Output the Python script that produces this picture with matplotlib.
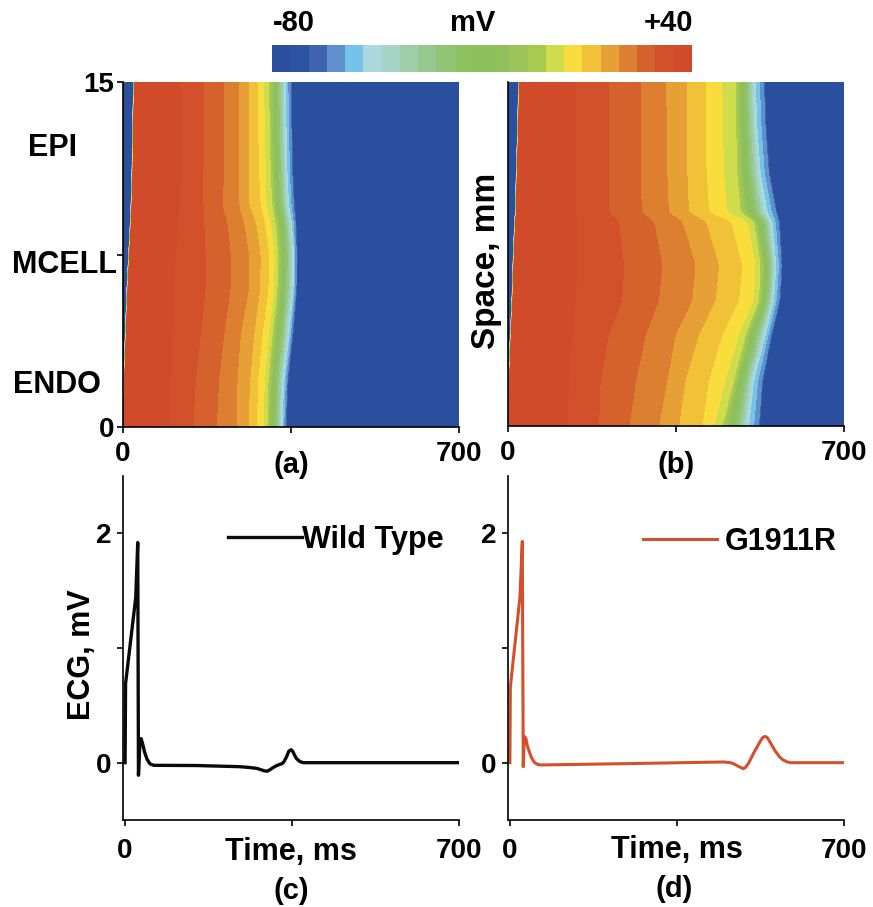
import numpy as np
import matplotlib
matplotlib.use("Agg")
import matplotlib.pyplot as plt
from matplotlib.colors import ListedColormap, BoundaryNorm
from matplotlib.cm import ScalarMappable

plt.rcParams['font.family'] = ['Liberation Sans', 'DejaVu Sans']
plt.rcParams['font.weight'] = 'bold'

# ---------------------------------------------------------------------------
# Colour scale: 23 equal voltage bands between -80 and +40 mV
V_MIN, V_MAX = -80.0, 40.0
band_colors = [
    '#2a4f9f', '#2c52a2', '#3f63ae', '#5f90cb', '#75c3e8', '#acd9de',
    '#a6d4c6', '#9ecea8', '#95c88f', '#90c373', '#8ec160', '#8dc05b',
    '#8fc05b', '#9bc45a', '#a8ca4f', '#cfdd4c', '#f8dd3c', '#f1c237',
    '#e6a035', '#dc7f30', '#d5612c', '#d2502a', '#d14a29',
]
edges = np.linspace(V_MIN, V_MAX, len(band_colors) + 1)
V_REST = -78.0

# Isochrone tables (ms). Columns: activation time, then the times at which
# the membrane potential falls through the band edges
# 22, 21, 20, 19, 18, 17, 16, 15, 5 and 3 of the colour scale.
iso_edge_index = [22, 21, 20, 19, 18, 17, 16, 15, 5, 3]

wt_space = [0.0, 2.0, 4.0, 6.0, 7.5, 9.0, 9.5, 11.0, 13.0, 15.0]
wt_isochrones = [
    [1.3, 98.4, 145.6, 194.2, 235.8, 260.1, 277.4, 291.3, 299.6, 330.8, 337.8],
    [4.8, 99.8, 150.5, 199.0, 237.2, 263.5, 280.2, 294.1, 301.7, 334.3, 341.2],
    [8.3, 101.9, 160.9, 209.4, 244.1, 271.9, 289.2, 303.1, 310.0, 344.7, 351.6],
    [11.7, 105.4, 171.3, 223.3, 261.5, 284.3, 301.7, 313.5, 320.5, 353.7, 360.0],
    [15.3, 108.8, 171.3, 223.3, 261.5, 285.7, 303.1, 314.9, 321.8, 355.1, 360.7],
    [19.0, 115.0, 168.0, 216.0, 250.0, 275.0, 293.0, 306.0, 316.0, 350.0, 358.0],
    [20.0, 117.9, 166.4, 205.9, 240.7, 261.5, 285.7, 298.3, 310.0, 344.7, 355.1],
    [22.2, 119.2, 166.4, 209.4, 240.7, 261.5, 282.3, 296.2, 306.6, 341.2, 351.6],
    [23.5, 119.2, 167.8, 209.4, 240.7, 261.5, 280.2, 294.1, 304.5, 339.1, 349.6],
    [25.6, 119.2, 167.8, 209.4, 240.7, 261.5, 278.8, 292.7, 303.1, 337.8, 348.2],
]

mut_space = [0.0, 2.0, 4.0, 5.5, 7.0, 8.95, 9.25, 11.0, 13.0, 15.0]
mut_isochrones = [
    [1.3, 122.7, 188.6, 251.1, 313.5, 355.1, 403.7, 427.9, 445.3, 500.8, 521.7],
    [4.8, 126.2, 192.1, 266.3, 330.8, 368.5, 417.6, 452.2, 469.6, 511.2, 528.6],
    [8.3, 133.1, 209.4, 285.7, 348.2, 396.7, 445.3, 480.0, 493.9, 535.5, 547.3],
    [11.7, 140.1, 237.2, 313.5, 382.8, 431.4, 480.0, 511.2, 521.7, 552.8, 564.6],
    [13.8, 143.5, 240.7, 320.5, 389.8, 438.4, 486.9, 514.7, 525.1, 557.7, 568.8],
    [17.3, 143.5, 230.3, 303.1, 362.0, 410.6, 462.7, 497.3, 511.2, 549.4, 563.3],
    [18.7, 140.1, 209.4, 278.0, 334.0, 376.0, 418.0, 456.0, 484.0, 540.0, 558.0],
    [20.7, 140.1, 209.4, 275.3, 330.8, 372.5, 412.7, 448.8, 476.5, 525.1, 542.4],
    [23.5, 140.1, 209.4, 275.3, 329.4, 372.5, 410.6, 446.7, 474.4, 518.2, 535.5],
    [25.6, 140.1, 209.4, 275.3, 328.7, 372.5, 410.6, 445.3, 473.1, 514.7, 532.0],
]

# Pseudo-ECG traces (ms, mV)
ecg_wt_t = [0, 1, 22.3, 26.5, 28, 31, 33.5, 37, 41, 46, 52, 60, 150, 240, 260,
            276, 285, 292, 298, 304, 311, 318, 324, 329, 333, 338, 343, 347.6,
            351, 355, 359, 366, 373, 700]
ecg_wt_v = [0, 0.69, 1.44, 1.92, -0.11, 0.17, 0.21, 0.16, 0.09, 0.03, -0.01,
            -0.023, -0.025, -0.035, -0.042, -0.05, -0.062, -0.072, -0.074,
            -0.06, -0.04, -0.025, -0.015, -0.008, 0.01, 0.05, 0.1, 0.113, 0.1,
            0.065, 0.035, 0.01, 0.0, 0.0]

ecg_mut_t = [0, 1, 21, 26, 28, 30, 31.4, 33.5, 37, 42, 47, 52, 58, 65, 237,
             447, 462, 470, 480, 489, 494, 500, 510, 525, 530, 534.5, 539, 545,
             555, 565, 572, 580, 587, 700]
ecg_mut_v = [0, 0.66, 1.44, 1.93, -0.035, 0.2, 0.226, 0.21, 0.14, 0.08, 0.03,
             0.0, -0.015, -0.02, -0.009, 0.006, 0.0, -0.012, -0.035, -0.052,
             -0.04, -0.005, 0.078, 0.19, 0.22, 0.229, 0.22, 0.18, 0.107, 0.05,
             0.025, 0.008, 0.0, 0.0]

ECG_BLACK = '#0a0a0a'
ECG_RED = '#d64f2c'

# ---------------------------------------------------------------------------
W_PX, H_PX = 873, 907


def fx(px):
    return px / W_PX


def fy(py):
    return 1.0 - py / H_PX


def smooth_along_space(col, ds, sigma):
    """Gaussian smoothing of an isochrone curve along the space axis."""
    half = int(np.ceil(3 * sigma / ds))
    k = np.exp(-0.5 * (np.arange(-half, half + 1) * ds / sigma) ** 2)
    k /= k.sum()
    padded = np.pad(col, half, mode='edge')
    return np.convolve(padded, k, mode='valid')


def voltage_map(space_nodes, table, s_grid, t_grid, sigma):
    tbl = np.asarray(table, float)
    ds = s_grid[1] - s_grid[0]
    cols = np.stack([smooth_along_space(np.interp(s_grid, space_nodes, tbl[:, j]),
                                        ds, sigma)
                     for j in range(tbl.shape[1])], axis=1)
    levels = np.r_[V_REST, V_MAX - 0.01, edges[iso_edge_index], V_REST]
    V = np.empty((s_grid.size, t_grid.size))
    for i, row in enumerate(cols):
        times = np.r_[row[0] - 3.0, row[0], row[1:], row[-1] + 4.0]
        V[i] = np.interp(t_grid, times, levels)
    return V


s_grid = np.linspace(0, 15, 601)
t_grid = np.arange(0, 700.25, 0.5)

fig = plt.figure(figsize=(W_PX / 100, H_PX / 100), dpi=100)

TICK_KW = dict(direction='out', length=4, width=1.2, labelsize=20)


def style_axes(ax):
    for side in ('top', 'right'):
        ax.spines[side].set_visible(False)
    for side in ('left', 'bottom'):
        ax.spines[side].set_linewidth(1.2)
    ax.tick_params(**TICK_KW)


# --- membrane potential maps ---------------------------------------------
ax_a = fig.add_axes([fx(122.7), fy(427), 336.6 / W_PX, 345 / H_PX])
ax_b = fig.add_axes([fx(507.7), fy(426.5), 336.3 / W_PX, 344.5 / H_PX])

for ax, nodes, table, sig in ((ax_a, wt_space, wt_isochrones, 0.22),
                              (ax_b, mut_space, mut_isochrones, 0.12)):
    V = voltage_map(nodes, table, s_grid, t_grid, sig)
    cs = ax.contourf(t_grid, s_grid, V, levels=edges, colors=band_colors)
    cs.set_edgecolor('face')
    cs.set_linewidth(0.3)
    ax.set_xlim(0, 700)
    ax.set_ylim(0, 15)
    style_axes(ax)
    ax.set_xticks([0, 350, 700])
    ax.set_xticklabels(['0', '', '700'])
    ax.tick_params(axis='x', pad=6)

ax_a.set_yticks([0, 7.5, 15])
ax_a.set_yticklabels(['0', '', '15'])
ax_a.tick_params(axis='y', pad=2)
ax_b.set_yticks([])

# colour bar
cax = fig.add_axes([fx(272), fy(72), 420 / W_PX, 27 / H_PX])
sm = ScalarMappable(norm=BoundaryNorm(edges, len(band_colors)),
                    cmap=ListedColormap(band_colors))
cb = fig.colorbar(sm, cax=cax, orientation='horizontal')
cb.set_ticks([])
cb.ax.minorticks_off()
cb.ax.tick_params(which='both', length=0)
cb.outline.set_visible(False)

fig.text(fx(273), fy(23), '-80', ha='left', va='center', fontsize=21)
fig.text(fx(473), fy(23), 'mV', ha='center', va='center', fontsize=21)
fig.text(fx(693), fy(23), '+40', ha='right', va='center', fontsize=21)

fig.text(fx(52), fy(148), 'EPI', ha='center', va='center', fontsize=22)
fig.text(fx(65), fy(265), 'MCELL', ha='center', va='center', fontsize=22)
fig.text(fx(57), fy(385), 'ENDO', ha='center', va='center', fontsize=22)
fig.text(fx(486), fy(261), 'Space, mm', ha='center', va='center',
         rotation=90, fontsize=24)
fig.text(fx(291), fy(465), '(a)', ha='center', va='center', fontsize=21)
fig.text(fx(676), fy(465), '(b)', ha='center', va='center', fontsize=21)

# --- pseudo-ECGs ----------------------------------------------------------
ax_c = fig.add_axes([fx(122.7), fy(820), 336.6 / W_PX, 344 / H_PX])
ax_d = fig.add_axes([fx(507.5), fy(820), 336.5 / W_PX, 344 / H_PX])

ax_c.plot(ecg_wt_t, ecg_wt_v, color=ECG_BLACK, lw=2.4, label='Wild Type',
          solid_joinstyle='round')
ax_d.plot(ecg_mut_t, ecg_mut_v, color=ECG_RED, lw=2.2, label='G1911R',
          solid_joinstyle='round')

for ax in (ax_c, ax_d):
    ax.set_xlim(-5, 700)
    ax.set_ylim(-0.5, 2.5)
    style_axes(ax)
    ax.set_xticks([0, 350, 700])
    ax.set_xticklabels(['0', '', '700'])
    ax.set_yticks([0, 1, 2])
    ax.set_yticklabels(['0', '', '2'])
    ax.tick_params(axis='x', pad=9)
    ax.tick_params(axis='y', pad=4)

ax_c.legend(loc='center left', bbox_to_anchor=((228 - 122.7) / 336.6, (820 - 540) / 344),
            frameon=False, borderpad=0, borderaxespad=0, handlelength=2.42,
            handletextpad=0.0, prop={'size': 22, 'weight': 'bold'})
ax_d.legend(loc='center left', bbox_to_anchor=((643 - 507.5) / 336.5, (820 - 542) / 344),
            frameon=False, borderpad=0, borderaxespad=0, handlelength=2.42,
            handletextpad=0.25, prop={'size': 22, 'weight': 'bold'})

fig.text(fx(82), fy(655), 'ECG, mV', ha='center', va='center', rotation=90,
         fontsize=22)
fig.text(fx(291), fy(852), 'Time, ms', ha='center', va='center', fontsize=22)
fig.text(fx(291.5), fy(891), '(c)', ha='center', va='center', fontsize=21)
fig.text(fx(676.5), fy(850), 'Time, ms', ha='center', va='center', fontsize=22)
fig.text(fx(674), fy(889), '(d)', ha='center', va='center', fontsize=21)

fig.savefig('out.png', dpi=100)
